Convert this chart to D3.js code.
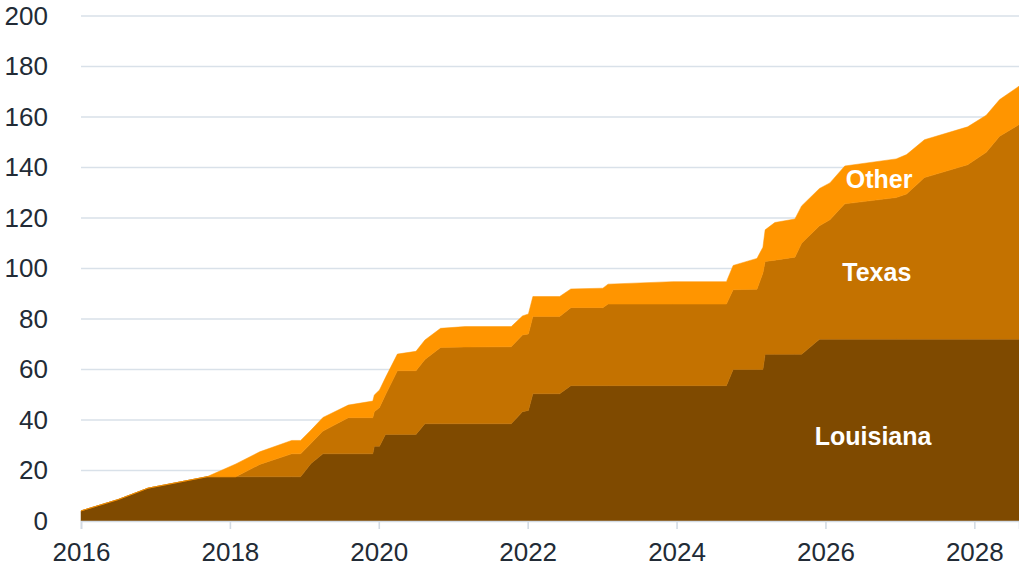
<!DOCTYPE html>
<html>
<head>
<meta charset="utf-8">
<script src="https://cdn.jsdelivr.net/npm/d3@7"></script>
<style>
  html, body { margin: 0; padding: 0; background: #fff; }
  svg { display: block; font-family: "Liberation Sans", Arial, sans-serif; }
</style>
</head>
<body>
<svg id="chart" width="1019" height="571"></svg>
<script>
// Decimal years of each breakpoint
const years = [2016.00, 2016.50, 2016.90, 2017.69, 2018.08, 2018.40, 2018.83, 2018.95, 2019.09, 2019.25,
  2019.59, 2019.92, 2019.94, 2020.01, 2020.09, 2020.25, 2020.50, 2020.62, 2020.83, 2021.16,
  2021.78, 2021.93, 2022.01, 2022.07, 2022.43, 2022.58, 2023.01, 2023.08, 2023.95, 2024.67,
  2024.76, 2025.08, 2025.16, 2025.19, 2025.32, 2025.59, 2025.68, 2025.92, 2026.06, 2026.26,
  2026.95, 2027.09, 2027.33, 2027.91, 2028.16, 2028.34, 2028.60];
const louisiana = [4, 8.5, 13, 17.5, 17.5, 17.5, 17.5, 17.5, 22.8, 26.6,
  26.6, 26.6, 29.6, 29.6, 34.3, 34.3, 34.3, 38.5, 38.5, 38.5,
  38.5, 43.3, 43.8, 50.4, 50.4, 53.6, 53.6, 53.6, 53.6, 53.6,
  60, 60, 60, 66, 66, 66, 66, 72, 72, 72,
  72, 72, 72, 72, 72, 72, 72];
const texas = [0, 0, 0, 0, 0, 4.9, 9.1, 9.1, 8.0, 9.0,
  14.3, 14.3, 13.7, 15.4, 15.7, 25.2, 25.2, 25.5, 30.2, 30.4,
  30.5, 30.4, 30.3, 30.6, 30.6, 30.9, 30.9, 32.3, 32.3, 32.3,
  31.6, 31.8, 38.2, 36.8, 37.3, 38.5, 44, 44.9, 47.3, 53.6,
  56.1, 57.5, 64, 69.1, 74, 80.4, 85];
const other = [0, 0, 0, 0, 5.1, 5.0, 5.3, 5.3, 5.2, 5.4,
  5.0, 6.6, 6.6, 6.9, 6.8, 6.6, 7.7, 7.7, 7.6, 8.1,
  8.0, 7.5, 7.9, 7.9, 7.9, 7.4, 7.7, 7.9, 8.9, 8.9,
  9.6, 12.2, 10.2, 12.5, 14.9, 15.1, 14.8, 14.8, 14.6, 15.0,
  15.3, 15.6, 15, 15.0, 14.7, 14.5, 15.2];
const seriesNames = ["Louisiana", "Texas", "Other"];
const seriesColors = ["#7f4a00", "#c47200", "#ff9500"];
const xTicks = [2016, 2018, 2020, 2022, 2024, 2026, 2028];
const yTicks = [0, 20, 40, 60, 80, 100, 120, 140, 160, 180, 200];
const labels = [
  { name: "Louisiana", year: 2026.64, value: 30 },
  { name: "Texas", year: 2026.69, value: 95 },
  { name: "Other", year: 2026.72, value: 132 }
];

const rows = years.map((y, i) => ({ year: y, Louisiana: louisiana[i], Texas: texas[i], Other: other[i] }));

const svg = d3.select("#chart");
const x = d3.scaleLinear().domain([2016, 2028.6]).range([81, 1019]);
const y = d3.scaleLinear().domain([0, 200]).range([521, 16]);

// gridlines
svg.append("g")
  .selectAll("line")
  .data(yTicks.filter(d => d > 0))
  .join("line")
  .attr("x1", 81).attr("x2", 1019)
  .attr("y1", d => y(d)).attr("y2", d => y(d))
  .attr("stroke", "#d9e1e9").attr("stroke-width", 1.6);

// stacked areas
const stack = d3.stack().keys(seriesNames);
const layers = stack(rows);
const area = d3.area()
  .x(d => x(d.data.year))
  .y0(d => y(d[0]))
  .y1(d => y(d[1]));
svg.append("g")
  .selectAll("path")
  .data(layers)
  .join("path")
  .attr("d", area)
  .attr("fill", (d, i) => seriesColors[i])
  .attr("stroke", (d, i) => seriesColors[i])
  .attr("stroke-width", 0.5);

// x axis
const xAxis = d3.axisBottom(x).tickValues(xTicks).tickFormat(d3.format("d")).tickSize(8).tickPadding(14);
const gx = svg.append("g").attr("transform", `translate(0,${y(0)})`).call(xAxis);
gx.select(".domain").attr("stroke", "#d3dbe4").attr("stroke-width", 1.6);
gx.selectAll(".tick line").attr("stroke", "#d3dbe4").attr("stroke-width", 1.6);
gx.selectAll(".tick text").attr("font-size", 26).attr("fill", "#222b36")
  .attr("font-family", "'Liberation Sans', Arial, sans-serif");

// y axis labels
const yAxis = d3.axisLeft(y).tickValues(yTicks).tickSize(0).tickPadding(0);
const gy = svg.append("g").attr("transform", "translate(48,0)").call(yAxis);
gy.select(".domain").remove();
gy.selectAll(".tick text").attr("font-size", 26).attr("fill", "#222b36")
  .attr("font-family", "'Liberation Sans', Arial, sans-serif");

// series labels
svg.append("g")
  .selectAll("text")
  .data(labels)
  .join("text")
  .attr("x", d => x(d.year))
  .attr("y", d => y(d.value))
  .attr("text-anchor", "middle")
  .attr("font-size", 25)
  .attr("font-weight", "bold")
  .attr("fill", "#ffffff")
  .text(d => d.name);
</script>
</body>
</html>
